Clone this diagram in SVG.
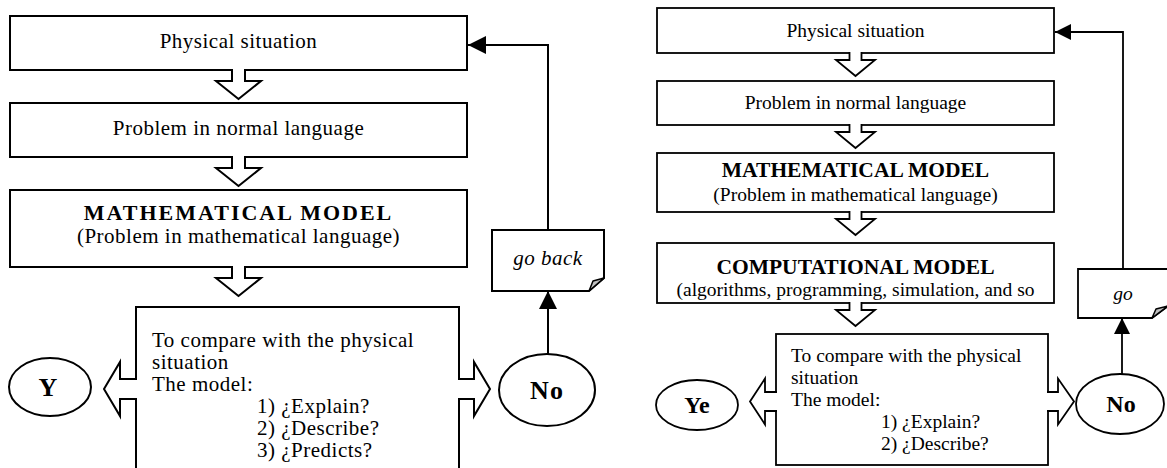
<svg xmlns="http://www.w3.org/2000/svg" width="1167" height="468" viewBox="0 0 1167 468">
<style>
 .box{fill:#fff;stroke:#000;stroke-width:2}
 .boxR{fill:#fff;stroke:#000;stroke-width:1.8}
 .t{font-family:"Liberation Serif","Times New Roman",serif;fill:#000}
 .L{font-size:21px;letter-spacing:0.5px}
 .R{font-size:19.5px}
 .c{text-anchor:middle}
 .b{font-weight:bold}
 .i{font-style:italic}
 .ln{fill:none;stroke:#000;stroke-width:2}
 .lnR{fill:none;stroke:#000;stroke-width:1.8}
 .af{fill:#fff;stroke:none}
 .as{fill:none;stroke:#000;stroke-width:2;stroke-linejoin:miter}
 .asR{fill:none;stroke:#000;stroke-width:1.8;stroke-linejoin:miter}
 .fold{fill:#c0c0c0;stroke:#000;stroke-width:1.5;stroke-linejoin:round}
</style>
<defs>
 <marker id="ahL" markerUnits="userSpaceOnUse" markerWidth="20" markerHeight="20" refX="18" refY="9" orient="auto"><path d="M0,0 L18,9 L0,18 z" fill="#000"/></marker>
 <marker id="ahR" markerUnits="userSpaceOnUse" markerWidth="18" markerHeight="18" refX="16" refY="8" orient="auto"><path d="M0,0 L16,8 L0,16 z" fill="#000"/></marker>
 <g id="dnL">
  <path class="af" d="M-6.5,-2 V11 H-22.5 L0,29 L22.5,11 H6.5 V-2 Z"/>
  <path class="as" d="M-6.5,-1 V11 H-22.5 L0,29 L22.5,11 H6.5 V-1"/>
 </g>
 <g id="dnR">
  <path class="af" d="M-6,-2 V7 H-19.5 L0,23 L19.5,7 H6 V-2 Z"/>
  <path class="asR" d="M-6,-1 V7 H-19.5 L0,23 L19.5,7 H6 V-1"/>
 </g>
</defs>
<rect width="1167" height="468" fill="#fff"/>

<!-- LEFT DIAGRAM -->
<g id="L-physical">
 <rect class="box" x="10" y="16" width="457" height="54"/>
 <text class="t L c" x="238.5" y="48">Physical situation</text>
</g>
<g id="L-problem">
 <rect class="box" x="10" y="103" width="457" height="54"/>
 <text class="t L c" x="238.5" y="135">Problem in normal language</text>
</g>
<g id="L-math">
 <rect class="box" x="10" y="190" width="457" height="77"/>
 <text class="t b c" x="238.5" y="220" style="font-size:22px;letter-spacing:2px">MATHEMATICAL MODEL</text>
 <text class="t L c" x="238.5" y="243">(Problem in mathematical language)</text>
</g>
<g id="L-compare">
 <rect class="box" x="136" y="307" width="323" height="180"/>
 <text class="t L" x="152" y="347">To compare with the physical</text>
 <text class="t L" x="152" y="369">situation</text>
 <text class="t L" x="152" y="391">The model:</text>
 <text class="t L" x="257" y="413">1) ¿Explain?</text>
 <text class="t L" x="257" y="435">2) ¿Describe?</text>
 <text class="t L" x="257" y="457">3) ¿Predicts?</text>
</g>
<g id="L-yes">
 <ellipse class="box" cx="50" cy="387" rx="41" ry="29"/>
 <text class="t b c" x="48" y="396" style="font-size:26px">Y</text>
</g>
<g id="L-no">
 <ellipse class="box" cx="547" cy="390" rx="48" ry="36"/>
 <text class="t b c" x="547" y="399" style="font-size:26px;letter-spacing:1px">No</text>
</g>
<g id="L-goback">
 <path class="box" d="M492,230 H604 V278 L589,291 H492 Z"/>
 <path class="fold" d="M589,291 L593,281 L604,278 Z"/>
 <text class="t L i c" x="548" y="265">go back</text>
</g>

<!-- RIGHT DIAGRAM -->
<g id="R-physical">
 <rect class="boxR" x="657" y="8" width="397" height="45"/>
 <text class="t R c" x="855.5" y="37">Physical situation</text>
</g>
<g id="R-problem">
 <rect class="boxR" x="657" y="81" width="397" height="44"/>
 <text class="t R c" x="855.5" y="109">Problem in normal language</text>
</g>
<g id="R-math">
 <rect class="boxR" x="657" y="153" width="397" height="59"/>
 <text class="t b c" x="855.5" y="177" style="font-size:21.5px">MATHEMATICAL MODEL</text>
 <text class="t R c" x="855.5" y="201">(Problem in mathematical language)</text>
</g>
<g id="R-comp">
 <rect class="boxR" x="657" y="243" width="397" height="60"/>
 <text class="t b c" x="855.5" y="274" style="font-size:21.5px">COMPUTATIONAL MODEL</text>
 <text class="t R c" x="855.5" y="296">(algorithms, programming, simulation, and so</text>
</g>
<g id="R-compare">
 <rect class="boxR" x="776" y="334" width="272" height="131"/>
 <text class="t R" x="791" y="362">To compare with the physical</text>
 <text class="t R" x="791" y="384">situation</text>
 <text class="t R" x="791" y="406">The model:</text>
 <text class="t R" x="881" y="428">1) ¿Explain?</text>
 <text class="t R" x="881" y="450">2) ¿Describe?</text>
</g>
<g id="R-yes">
 <ellipse class="boxR" cx="697" cy="405" rx="41" ry="25"/>
 <text class="t b c" x="697" y="413" style="font-size:24px">Ye</text>
</g>
<g id="R-no">
 <ellipse class="boxR" cx="1120" cy="404" rx="44" ry="30"/>
 <text class="t b c" x="1121" y="412" style="font-size:24px">No</text>
</g>
<g id="R-go">
 <path class="boxR" d="M1078,269 H1168 V306 L1152,318 H1078 Z"/>
 <path class="fold" d="M1152,318 L1156,309 L1168,306 Z"/>
 <text class="t R i c" x="1123" y="300">go</text>
</g>

<!-- CONNECTORS -->
<g id="connectors">
 <use href="#dnL" transform="translate(238.5,70)"/>
 <use href="#dnL" transform="translate(238.5,157)"/>
 <use href="#dnL" transform="translate(238.5,267)"/>
 <path class="af" d="M138,379 H120 V362 L104,389 L120,416 V399 H138 Z"/>
 <path class="as" d="M137,379 H120 V362 L104,389 L120,416 V399 H137"/>
 <path class="af" d="M457,379 H474 V362 L490,389 L474,416 V399 H457 Z"/>
 <path class="as" d="M458,379 H474 V362 L490,389 L474,416 V399 H458"/>
 <path class="ln" d="M548,354 V291" marker-end="url(#ahL)"/>
 <path class="ln" d="M548,230 V45 H468" marker-end="url(#ahL)"/>

 <use href="#dnR" transform="translate(855.5,53)"/>
 <use href="#dnR" transform="translate(855.5,125)"/>
 <use href="#dnR" transform="translate(855.5,212)"/>
 <use href="#dnR" transform="translate(855.5,303)"/>
 <path class="af" d="M778,392 H765 V378.5 L750,401.5 L765,424.5 V411 H778 Z"/>
 <path class="asR" d="M777,392 H765 V378.5 L750,401.5 L765,424.5 V411 H777"/>
 <path class="af" d="M1046,392 H1058 V378.5 L1074,401.5 L1058,424.5 V411 H1046 Z"/>
 <path class="asR" d="M1047,392 H1058 V378.5 L1074,401.5 L1058,424.5 V411 H1047"/>
 <path class="lnR" d="M1122,374 V318" marker-end="url(#ahR)"/>
 <path class="lnR" d="M1123,269 V32 H1055" marker-end="url(#ahR)"/>
</g>
</svg>
